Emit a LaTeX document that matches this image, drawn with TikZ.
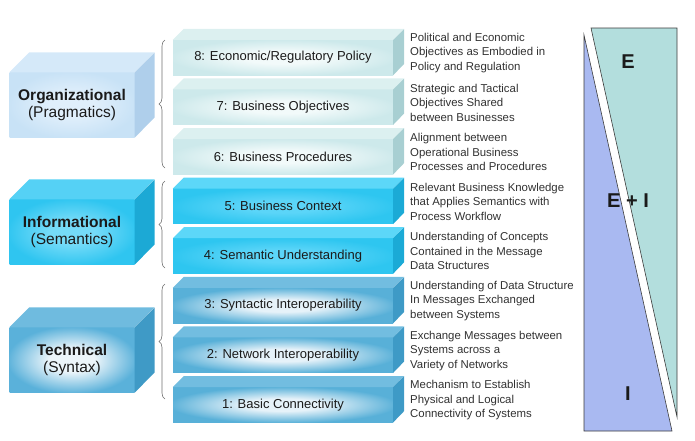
\documentclass[tikz,border=0pt]{standalone}
\usepackage{fontspec}
\setmainfont{Liberation Sans}
\usepackage{tikz}
\usetikzlibrary{positioning,calc,decorations.pathreplacing}
\definecolor{ink}{HTML}{1A1A1A}
\definecolor{bracegray}{HTML}{6E6E6E}
\definecolor{edgegray}{HTML}{3C3C3C}
% layer bars
\definecolor{orgedge}{HTML}{CDE9EB}
\definecolor{orgcenter}{HTML}{F2FAFA}
\definecolor{orgtop}{HTML}{DCF0F0}
\definecolor{orgside}{HTML}{A8CFD2}
\definecolor{infedge}{HTML}{2EC6F0}
\definecolor{infcenter}{HTML}{5BD5F8}
\definecolor{inftop}{HTML}{5CD7F8}
\definecolor{infside}{HTML}{1BAAD6}
\definecolor{tecedge}{HTML}{58B0D8}
\definecolor{teccenter}{HTML}{E6F2F9}
\definecolor{tectop}{HTML}{72BDE0}
\definecolor{tecside}{HTML}{3E9AC6}
% group boxes
\definecolor{gorgedge}{HTML}{C8E2F6}
\definecolor{gorgcenter}{HTML}{E0EFFB}
\definecolor{gorgtop}{HTML}{D5E9F9}
\definecolor{gorgside}{HTML}{AFCFEB}
\definecolor{ginfedge}{HTML}{2FC5F0}
\definecolor{ginfcenter}{HTML}{75DBF8}
\definecolor{ginftop}{HTML}{55D1F5}
\definecolor{ginfside}{HTML}{1CA9D5}
\definecolor{gtecedge}{HTML}{5AB1DA}
\definecolor{gteccenter}{HTML}{ECF5FA}
\definecolor{gtectop}{HTML}{6FBBDF}
\definecolor{gtecside}{HTML}{3F9AC6}
% share triangles
\definecolor{extfill}{HTML}{B3DEDD}
\definecolor{intfill}{HTML}{A9B9F1}

\makeatletter
\pgfdeclareradialshading[tikz@radial@inner,tikz@radial@outer]{glow}{\pgfpoint{0bp}{0bp}}{%
  color(0bp)=(tikz@radial@inner); color(9bp)=(tikz@radial@inner);
  color(26bp)=(tikz@radial@outer); color(50bp)=(tikz@radial@outer)}
\makeatother

\tikzset{
  layerfront/.style={minimum width=220pt, minimum height=35pt, inner sep=0pt,
    inner color=#1center, outer color=#1edge, shading=glow, text=ink,
    font=\fontsize{13}{15}\selectfont},
  groupfront/.style={minimum width=125pt, minimum height=65pt, inner sep=0pt,
    inner color=#1center, outer color=#1edge, shading=glow, text=ink, align=center,
    font=\fontsize{15.5}{17}\selectfont},
  desc/.style={anchor=west, inner sep=0pt, align=left, text=ink!90,
    font=\fontsize{11.4}{14.5}\selectfont},
  layerbrace/.style={draw=bracegray, line width=0.6pt, decorate,
    decoration={brace, amplitude=6pt}},
  share/.style={draw=edgegray, line width=0.6pt},
  sharelabel/.style={text=ink, font=\fontsize{20}{22}\selectfont\bfseries}
}

\begin{document}
\begin{tikzpicture}[x=1pt, y=-1pt]
  \useasboundingbox (0,0) rectangle (695,440);

  \foreach \n/\lbl/\lay/\txt in {
      8/{8: Economic/Regulatory Policy}/org/{Political and Economic\\Objectives as Embodied in\\Policy and Regulation},
      7/{7: Business Objectives}/org/{Strategic and Tactical\\Objectives Shared\\between Businesses},
      6/{6: Business Procedures}/org/{Alignment between\\Operational Business\\Processes and Procedures},
      5/{5: Business Context}/inf/{Relevant Business Knowledge\\that Applies Semantics with\\Process Workflow},
      4/{4: Semantic Understanding}/inf/{Understanding of Concepts\\Contained in the Message\\Data Structures},
      3/{3: Syntactic Interoperability}/tec/{Understanding of Data Structure\\In Messages Exchanged\\between Systems},
      2/{2: Network Interoperability}/tec/{Exchange Messages between\\Systems across a\\Variety of Networks},
      1/{1: Basic Connectivity}/tec/{Mechanism to Establish\\Physical and Logical\\Connectivity of Systems}} {
    \node[layerfront=\lay] (l\n) at (283,{57.5+49.6*(8-\n)}) {\lbl};
    \fill[fill=\lay top] (l\n.north west) -- ++(11,-11) -- ++(220,0) -- (l\n.north east) -- cycle;
    \fill[fill=\lay side] (l\n.north east) -- ++(11,-11) -- ++(0,35) -- (l\n.south east) -- cycle;
    \node[desc] (d\n) at (410,{53+49.6*(8-\n)}) {\txt};
  }

  \foreach \g/\gname/\gy/\gtxt in {
      gorg/org/105/{\textbf{Organizational}\\(Pragmatics)},
      ginf/inf/232/{\textbf{Informational}\\(Semantics)},
      gtec/tec/360/{\textbf{Technical}\\(Syntax)}} {
    \node[groupfront=\g] (\gname) at (72,\gy) {\gtxt};
    \fill[fill=\g top] (\gname.north west) -- ++(20,-20) -- ++(125,0) -- (\gname.north east) -- cycle;
    \fill[fill=\g side] (\gname.north east) -- ++(20,-20) -- ++(0,65) -- (\gname.south east) -- cycle;
  }

  \coordinate (orgtopend) at (165,40);
  \coordinate (orgbotend) at (165,168);
  \coordinate (inftopend) at (165,181);
  \coordinate (infbotend) at (165,268);
  \coordinate (tectopend) at (165,284);
  \coordinate (tecbotend) at (165,399);
  \draw[layerbrace] (orgbotend) -- (orgtopend);
  \draw[layerbrace] (infbotend) -- (inftopend);
  \draw[layerbrace] (tecbotend) -- (tectopend);

  \draw[share, fill=extfill] (591,28) -- (677,28) -- (677,417) -- cycle;
  \draw[share, fill=intfill] (584,35) -- (672,431) -- (584,431) -- cycle;
  \node[sharelabel] (ext) at (628,62) {E};
  \node[sharelabel] (mix) at (628,201) {E + I};
  \node[sharelabel] (int) at (628,394) {I};
\end{tikzpicture}
\end{document}
